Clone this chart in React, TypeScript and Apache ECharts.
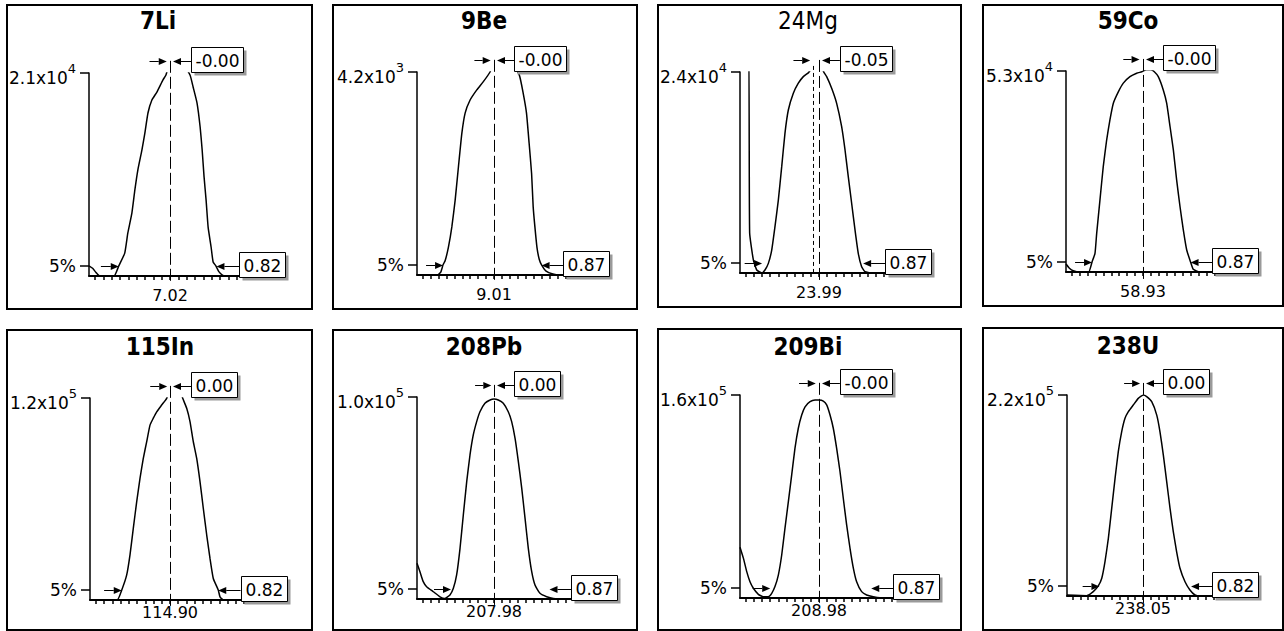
import React, { useEffect, useRef } from 'react';
import * as echarts from 'echarts';

// Isotopes scanned in the mass-calibration / resolution check
const isotopes = ['7Li', '9Be', '24Mg', '59Co', '115In', '208Pb', '209Bi', '238U'];
// Nominal mass at the centre of each scan window (amu)
const centreMasses = [7.02, 9.01, 23.99, 58.93, 114.9, 207.98, 208.98, 238.05];
// Full-scale intensity of each window (counts)
const fullScale = [2.1e4, 4.2e3, 2.4e4, 5.3e4, 1.2e5, 1.0e5, 1.6e5, 2.2e5];
// Measured peak-centre shift from nominal mass (amu)
const peakShift = [-0.002, -0.003, -0.05, -0.004, 0.002, 0.003, -0.002, 0.001];
// Peak width at 5 % of full scale (amu)
const peakWidth = [0.82, 0.87, 0.87, 0.87, 0.82, 0.87, 0.87, 0.82];
// Low-mass edge of the peak at the 5 % level, relative to nominal mass (amu)
const lowEdge = [-0.43, -0.45, -0.49, -0.45, -0.41, -0.38, -0.42, -0.39];

// Scan profiles: [offset from nominal mass (amu), intensity (counts)]
const li7Profile = [
  [-0.68, 1050], [-0.65, 800], [-0.62, 350], [-0.59, 0], [-0.47, 0], [-0.43, 1050],
  [-0.38, 2370], [-0.354, 4450], [-0.32, 6510], [-0.295, 8900], [-0.27, 10960],
  [-0.236, 13020], [-0.211, 14780], [-0.185, 16860], [-0.152, 18200], [-0.11, 19030],
  [-0.059, 20290], [-0.034, 20790], [0.0, 22000], [0.1, 22000], [0.168, 20790],
  [0.194, 19550], [0.227, 17890], [0.253, 15410], [0.27, 13040], [0.286, 10250],
  [0.303, 7850], [0.32, 5060], [0.345, 3000], [0.362, 1450], [0.385, 1050],
  [0.41, 450], [0.44, 100], [0.47, 0], [0.68, 0],
];
const be9Profile = [
  [-0.68, 0], [-0.5, 0], [-0.47, 60], [-0.45, 210], [-0.431, 300], [-0.402, 580],
  [-0.372, 1000], [-0.343, 1550], [-0.314, 2240], [-0.284, 2930], [-0.255, 3350],
  [-0.211, 3620], [-0.152, 3830], [-0.094, 4000], [-0.035, 4200], [0.0, 4400],
  [0.15, 4400], [0.223, 4140], [0.258, 3760], [0.287, 3350], [0.31, 2730],
  [0.332, 2100], [0.346, 1410], [0.361, 1000], [0.38, 560], [0.4, 320], [0.42, 210],
  [0.46, 80], [0.52, 20], [0.58, 0], [0.68, 0],
];
const mg24Profile = [
  [-0.68, 30000], [-0.61, 30000], [-0.597, 4800], [-0.565, 1560], [-0.536, 360],
  [-0.493, 0], [-0.465, 360], [-0.436, 1150], [-0.407, 2740], [-0.379, 5540],
  [-0.35, 8710], [-0.321, 12700], [-0.293, 16680], [-0.264, 19460], [-0.221, 21460],
  [-0.178, 22660], [-0.135, 23450], [-0.092, 23900], [-0.06, 24400], [0.023, 24400],
  [0.045, 23900], [0.066, 23450], [0.109, 22060], [0.152, 20260], [0.195, 17470],
  [0.224, 14690], [0.252, 11500], [0.281, 8330], [0.31, 5140], [0.338, 2350],
  [0.367, 740], [0.396, 170], [0.45, 0], [0.68, 0],
];
const co59Profile = [
  [-0.68, 2100], [-0.65, 1000], [-0.616, 320], [-0.557, 0], [-0.48, 0], [-0.45, 2650],
  [-0.424, 4900], [-0.409, 10200], [-0.38, 19000], [-0.351, 27800], [-0.321, 34800],
  [-0.292, 40100], [-0.262, 44500], [-0.218, 47500], [-0.174, 49800], [-0.115, 51500],
  [-0.056, 52400], [-0.011, 52800], [0.03, 53300], [0.07, 53300], [0.1, 52800],
  [0.135, 51500], [0.179, 48000], [0.209, 44500], [0.239, 38300], [0.268, 32200],
  [0.297, 24300], [0.327, 17200], [0.356, 11100], [0.386, 5800], [0.42, 2650],
  [0.444, 700], [0.5, 0], [0.68, 0],
];
const in115Profile = [
  [-0.68, 0], [-0.45, 0], [-0.41, 6000], [-0.368, 14900], [-0.34, 26800],
  [-0.312, 42600], [-0.283, 58400], [-0.255, 72200], [-0.227, 84100], [-0.198, 94100],
  [-0.17, 103900], [-0.142, 108000], [-0.113, 111800], [-0.071, 115800],
  [-0.028, 119800], [0.0, 126000], [0.08, 126000], [0.108, 119800], [0.142, 113900],
  [0.17, 106000], [0.198, 94100], [0.227, 84100], [0.255, 70300], [0.283, 54500],
  [0.312, 38600], [0.34, 24700], [0.368, 12800], [0.41, 6000], [0.425, 1900],
  [0.453, 0], [0.68, 0],
];
const pb208Profile = [
  [-0.68, 17700], [-0.654, 13500], [-0.625, 8600], [-0.595, 6100], [-0.536, 3600],
  [-0.477, 1100], [-0.433, 300], [-0.389, 2000], [-0.359, 5300], [-0.33, 11900],
  [-0.3, 25100], [-0.271, 41600], [-0.241, 58100], [-0.212, 71300], [-0.183, 81200],
  [-0.153, 87800], [-0.124, 92700], [-0.08, 96900], [-0.035, 98500], [0.0, 99000],
  [0.038, 98500], [0.082, 96900], [0.126, 92700], [0.156, 87800], [0.186, 79500],
  [0.215, 68000], [0.245, 54800], [0.274, 40000], [0.303, 25100], [0.333, 13500],
  [0.362, 6900], [0.406, 2800], [0.465, 1100], [0.524, 300], [0.68, 0],
];
const bi209Profile = [
  [-0.68, 40000], [-0.651, 31400], [-0.622, 20800], [-0.594, 12800], [-0.565, 7700],
  [-0.522, 2900], [-0.479, 1000], [-0.436, 1000], [-0.407, 3700], [-0.379, 9000],
  [-0.35, 18100], [-0.321, 33900], [-0.293, 54900], [-0.264, 75800], [-0.235, 97000],
  [-0.207, 117900], [-0.178, 133800], [-0.149, 144200], [-0.12, 150700],
  [-0.077, 154700], [-0.034, 156000], [0.0, 156000], [0.037, 155200], [0.066, 152200],
  [0.095, 144200], [0.123, 133800], [0.152, 117900], [0.181, 99500], [0.209, 78600],
  [0.238, 57600], [0.267, 39200], [0.296, 23400], [0.324, 12800], [0.367, 5000],
  [0.41, 2400], [0.467, 1000], [0.525, 200], [0.68, 0],
];
const u238Profile = [
  [-0.68, 1100], [-0.504, 400], [-0.445, 4800], [-0.4, 11000], [-0.369, 19400],
  [-0.34, 37600], [-0.31, 63100], [-0.28, 95900], [-0.25, 128700], [-0.221, 158000],
  [-0.191, 179700], [-0.161, 194500], [-0.131, 201700], [-0.087, 209000],
  [-0.042, 216300], [0.003, 220000], [0.033, 218200], [0.078, 212700], [0.123, 198000],
  [0.152, 179700], [0.182, 154200], [0.212, 125200], [0.242, 95900], [0.271, 70400],
  [0.301, 48400], [0.331, 30400], [0.376, 15600], [0.42, 6600], [0.465, 1100],
  [0.51, 0], [0.68, 0],
];
const profiles = [
  li7Profile, be9Profile, mg24Profile, co59Profile,
  in115Profile, pb208Profile, bi209Profile, u238Profile,
];

// Scan window half-range and minor tick spacing (amu)
const HALF_RANGE = 0.68;
const TICK_STEP = 0.07;

// ---- layout (pixels) ----
// panel frames: [x, y, width, height]
const panelFrames = [
  [7, 5, 305, 304], [333, 5, 304, 304], [658, 5, 303, 302], [983, 5, 300, 301],
  [7, 330, 305, 300], [333, 330, 304, 300], [658, 329, 303, 301], [983, 328, 300, 302],
];
// plot areas: [left, top, half width, bottom]
const plotAreas = [
  [89, 73, 81, 276], [417, 72, 77, 275], [740, 72, 79, 273], [1066, 71, 77, 272],
  [90, 398, 80, 600], [417, 397, 77, 599], [740, 395, 79, 598], [1067, 395, 76, 596],
];
// title centres: [x, y]
const titleCentres = [
  [158, 21], [484, 21], [808, 21], [1128, 21],
  [160, 347], [484, 347], [808, 347], [1128, 346],
];

const TITLE_FONT = "'DejaVu Sans Condensed', 'DejaVu Sans', sans-serif";
const FONT = "'DejaVu Sans', sans-serif";
const BOX_FONT = `17px ${FONT}`;

// annotation geometry in data units
const ARROW_LEVEL = 1.06; // fraction of full scale for the centre arrows
const WIDTH_LEVEL = 0.05; // level at which the width is measured
const TOP_TAIL = 0.17;
const TOP_BOX = 0.18;
const LOW_TAIL = 0.15;
const BOX_GAP = 0.19;

let measureCtx: CanvasRenderingContext2D | null = null;
function textWidth(text: string, font: string): number {
  if (!measureCtx) measureCtx = document.createElement('canvas').getContext('2d');
  if (!measureCtx) return text.length * 10;
  measureCtx.font = font;
  return measureCtx.measureText(text).width;
}

const crisp = (v: number) => Math.round(v) + 0.5;

function pushArrow(children: any[], tail: number[], tip: number[], gap: number) {
  const dir = tip[0] >= tail[0] ? 1 : -1;
  const tx = tip[0] - dir * gap;
  const y = crisp(tip[1]);
  const head = 8;
  children.push({
    type: 'line',
    shape: { x1: tail[0], y1: y, x2: tx - dir * head, y2: y },
    style: { stroke: '#000', lineWidth: 1 },
  });
  children.push({
    type: 'polygon',
    shape: { points: [[tx, y], [tx - dir * head, y - 3.5], [tx - dir * head, y + 3.5]] },
    style: { fill: '#000' },
  });
}

function pushValueBox(children: any[], anchor: number[], text: string) {
  const w = Math.round(textWidth(text, BOX_FONT) + 8);
  const h = 25;
  const x = crisp(anchor[0]);
  const y = crisp(anchor[1] - h / 2 - 1);
  children.push({
    type: 'rect',
    shape: { x: x + 3, y: y + 3, width: w, height: h },
    style: { fill: '#9a9a9a' },
  });
  children.push({
    type: 'rect',
    shape: { x, y, width: w, height: h },
    style: { fill: '#fff', stroke: '#000', lineWidth: 1 },
  });
  children.push({
    type: 'text',
    x: x + w / 2,
    y: y + h / 2 + 1,
    style: {
      text, font: BOX_FONT, fill: '#000',
      align: 'center', verticalAlign: 'middle',
      textAlign: 'center', textVerticalAlign: 'middle',
    },
  });
}

function renderMarkers(i: number, api: any) {
  const m = centreMasses[i];
  const full = fullScale[i];
  const shift = peakShift[i];
  const lo = m + lowEdge[i];
  const hi = lo + peakWidth[i];
  const yTop = full * ARROW_LEVEL;
  const y5 = full * WIDTH_LEVEL;
  const P = (x: number, y: number) => api.coord([x, y]);
  const children: any[] = [];

  // nominal-mass centre line
  const cTop = P(m, yTop);
  const cBase = P(m, 0);
  const cx = crisp(cTop[0]);
  children.push({
    type: 'line',
    shape: { x1: cx, y1: cTop[1], x2: cx, y2: cBase[1] + 7 },
    style: { stroke: '#000', lineWidth: 1, lineDash: [12, 4] },
  });
  // measured peak centre when it differs visibly
  if (Math.abs(shift) >= 0.005) {
    const a = P(m + shift, yTop);
    const b = P(m + shift, 0);
    const sx = crisp(a[0]);
    children.push({
      type: 'line',
      shape: { x1: sx, y1: a[1] + 6, x2: sx, y2: b[1] },
      style: { stroke: '#000', lineWidth: 1, lineDash: [4, 3] },
    });
  }
  // centre-shift arrows and value
  pushArrow(children, P(m + shift - TOP_TAIL, yTop), P(m + shift, yTop), 3);
  pushArrow(children, P(m + TOP_BOX, yTop), P(m, yTop), 3);
  pushValueBox(children, P(m + TOP_BOX, yTop), shift.toFixed(2));
  // width arrows at the 5 % level and value
  pushArrow(children, P(lo - LOW_TAIL, y5), P(lo, y5), 0);
  pushArrow(children, P(hi + BOX_GAP, y5), P(hi, y5), 0);
  pushValueBox(children, P(hi + BOX_GAP, y5), peakWidth[i].toFixed(2));

  return { type: 'group', children };
}

function sciLabel(v: number): string {
  const [mant, exp] = v.toExponential(1).split('e');
  return `{m|${mant}x10}{e|${Number(exp)}}`;
}

function buildOption(): any {
  const grids = plotAreas.map(([l, t, hw, b]) => ({
    left: l, top: t, width: hw * 2, height: b - t,
  }));

  const xAxes = centreMasses.map((m, i) => {
    const ticks: number[] = [];
    const n = Math.floor(HALF_RANGE / TICK_STEP + 1e-9);
    for (let k = -n; k <= n; k++) ticks.push(m + k * TICK_STEP);
    return {
      type: 'value',
      gridIndex: i,
      min: m - HALF_RANGE,
      max: m + HALF_RANGE,
      axisLine: { show: true, onZero: false, lineStyle: { color: '#000', width: 2 } },
      axisTick: {
        show: true, customValues: ticks, length: 4,
        lineStyle: { color: '#000', width: 1.5 },
      },
      axisLabel: {
        show: true, customValues: [m], formatter: () => m.toFixed(2),
        margin: i < 4 ? 11 : 4, color: '#000', fontFamily: FONT, fontSize: 16,
      },
      splitLine: { show: false },
    };
  });

  const yAxes = fullScale.map((full, i) => ({
    type: 'value',
    gridIndex: i,
    min: 0,
    max: full,
    axisLine: { show: true, onZero: false, lineStyle: { color: '#000', width: 1.5 } },
    axisTick: {
      show: true, customValues: [full * WIDTH_LEVEL, full], length: 9,
      lineStyle: { color: '#000', width: 1.5 },
    },
    axisLabel: {
      show: true,
      customValues: [full * WIDTH_LEVEL, full],
      margin: 13,
      color: '#000',
      fontFamily: FONT,
      fontSize: 17,
      formatter: (v: number) => (v > full / 2 ? sciLabel(full) : '5%'),
      rich: {
        m: { fontSize: 17, fontFamily: FONT, color: '#000', padding: [10, 0, 0, 0] },
        e: { fontSize: 13, fontFamily: FONT, color: '#000', padding: [0, 0, 10, 0] },
      },
    },
    splitLine: { show: false },
  }));

  const curves = profiles.map((prof, i) => ({
    type: 'line',
    xAxisIndex: i,
    yAxisIndex: i,
    data: prof.map(([o, c]) => [centreMasses[i] + o, c]),
    showSymbol: false,
    symbol: 'none',
    smooth: 0.15,
    clip: true,
    silent: true,
    lineStyle: { color: '#000', width: 1.5 },
    z: 2,
  }));

  const markers = centreMasses.map((m, i) => ({
    type: 'custom',
    xAxisIndex: i,
    yAxisIndex: i,
    clip: false,
    silent: true,
    z: 4,
    data: [[m, fullScale[i]]],
    renderItem: (_params: any, api: any) => renderMarkers(i, api),
  }));

  const frames = panelFrames.map(([x, y, w, h]) => ({
    type: 'rect',
    silent: true,
    shape: { x, y, width: w, height: h },
    style: { fill: 'none', stroke: '#000', lineWidth: 2 },
  }));

  const titles = isotopes.map((name, i) => ({
    type: 'text',
    silent: true,
    x: titleCentres[i][0],
    y: titleCentres[i][1],
    style: {
      text: name,
      font: `${name === '24Mg' ? 'normal' : 'bold'} 24px ${TITLE_FONT}`,
      fill: '#000',
      align: 'center',
      verticalAlign: 'middle',
      textAlign: 'center',
      textVerticalAlign: 'middle',
    },
  }));

  return {
    animation: false,
    backgroundColor: '#fff',
    grid: grids,
    xAxis: xAxes,
    yAxis: yAxes,
    series: [...curves, ...markers],
    graphic: [...frames, ...titles],
  };
}

export default function App() {
  const ref = useRef<HTMLDivElement>(null);
  useEffect(() => {
    document.body.style.margin = '0';
    if (!ref.current) return;
    const chart = echarts.init(ref.current, undefined, { renderer: 'svg' });
    chart.setOption(buildOption());
    return () => chart.dispose();
  }, []);
  return <div ref={ref} style={{ width: 1284, height: 631, background: '#fff' }} />;
}
